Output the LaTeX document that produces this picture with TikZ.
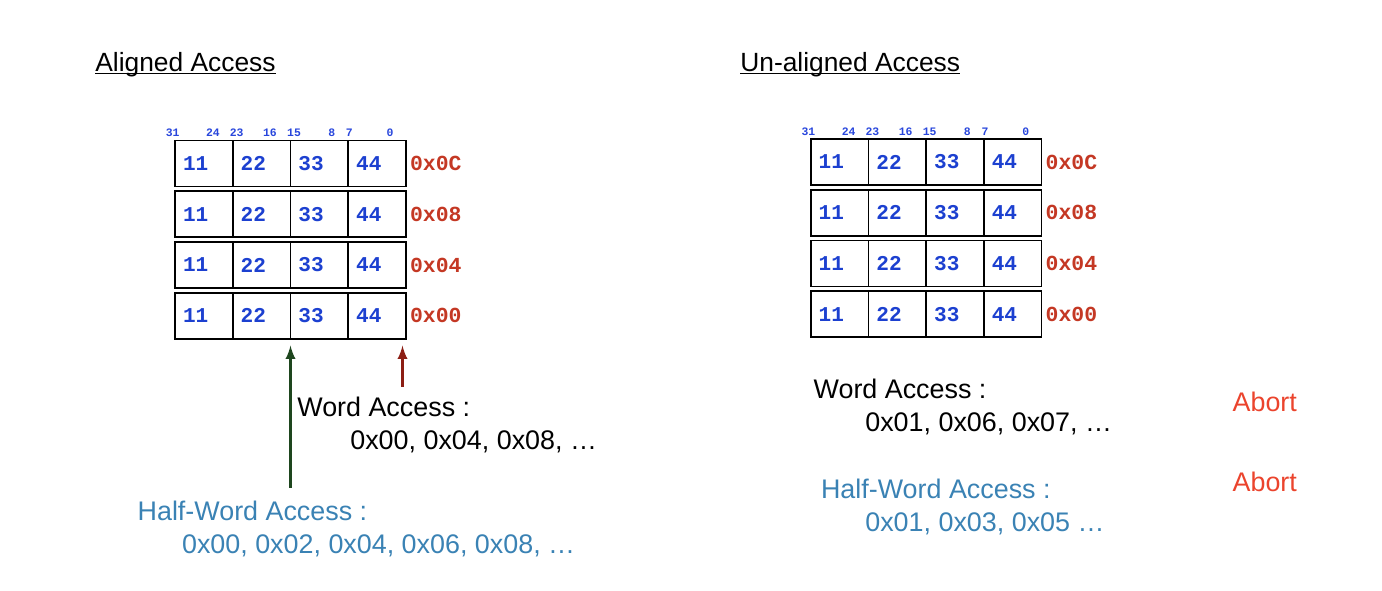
\documentclass[tikz,border=0pt]{standalone}
\usepackage{fontspec}
\setmainfont{Liberation Sans}
\setmonofont{Liberation Mono}
\usepackage{xcolor}
\usetikzlibrary{arrows,positioning}

\definecolor{digitblue}{RGB}{28,64,208}
\definecolor{bitblue}{RGB}{40,70,220}
\definecolor{addrred}{RGB}{196,56,36}
\definecolor{halfblue}{RGB}{58,130,180}
\definecolor{abortred}{RGB}{235,68,45}
\definecolor{arrgreen}{RGB}{30,70,30}
\definecolor{arrred}{RGB}{140,30,20}

\tikzset{
  cell/.style={rectangle,draw=black,line width=1pt,minimum width=1.154cm,minimum height=0.92cm,
    inner xsep=0.16cm,text width=0.834cm,align=left,text=digitblue,
    font=\ttfamily\bfseries\fontsize{12}{12}\selectfont},
  addr/.style={inner sep=0,anchor=west,text=addrred,font=\ttfamily\bfseries\fontsize{12.2}{12.2}\selectfont},
  bit/.style={inner sep=0,text=bitblue,font=\ttfamily\bfseries\fontsize{6.5}{6.5}\selectfont},
  title/.style={inner sep=0,anchor=base west,font=\fontsize{15}{18}\selectfont},
  lbl/.style={inner sep=0,anchor=base west,font=\fontsize{15.3}{18}\selectfont},
  uline/.style={line width=1pt},
  acc/.style={-latex,line width=1.6pt}
}

\begin{document}
\begin{tikzpicture}
\useasboundingbox (0,0) rectangle (27.64,11.8);

% titles
\node[title] (tal) at (1.9,10.37) {Aligned Access};
\draw[uline] ([yshift=-0.04cm]tal.base west) -- ([yshift=-0.04cm]tal.base east);
\node[title] (tun) at (14.8,10.37) {Un-aligned Access};
\draw[uline] ([yshift=-0.04cm]tun.base west) -- ([yshift=-0.04cm]tun.base east);

% aligned memory
\foreach \dx/\b in {-0.046/31,0.76/24,1.234/23,1.9/16,2.38/15,3.134/8,3.486/7,4.3/0}
  \node[bit] (lb\b) at (3.5+\dx,9.14) {\b};
\foreach \r/\y/\ad in {1/8.53/0x0C,2/7.515/0x08,3/6.50/0x04,4/5.485/0x00}{
  \foreach \c/\v in {1/11,2/22,3/33,4/44}
    \node[cell] (l\r\c) at ({3.5+0.577+(\c-1)*1.154},\y) {\v};
  \node[addr,right=0.06cm of l\r4] (la\r) {\ad};
}

% un-aligned memory
\foreach \dx/\b in {-0.046/31,0.76/24,1.234/23,1.9/16,2.38/15,3.134/8,3.486/7,4.3/0}
  \node[bit] (rb\b) at (16.214+\dx,9.17) {\b};
\foreach \r/\y/\ad in {1/8.56/0x0C,2/7.545/0x08,3/6.53/0x04,4/5.515/0x00}{
  \foreach \c/\v in {1/11,2/22,3/33,4/44}
    \node[cell] (r\r\c) at ({16.214+0.577+(\c-1)*1.154},\y) {\v};
  \node[addr,right=0.06cm of r\r4] (ra\r) {\ad};
}

% aligned accesses
\node[lbl] (wl) at (5.94,3.466) {Word Access :};
\node[lbl] (wlv) at (7.0,2.8) {0x00, 0x04, 0x08, \dots};
\node[lbl,text=halfblue] (hl) at (2.746,1.4) {Half-Word Access :};
\node[lbl,text=halfblue] (hlv) at (3.634,0.733) {0x00, 0x02, 0x04, 0x06, 0x08, \dots};
\coordinate (wtail) at (8.05,4.06);
\coordinate (htail) at (5.81,2.04);
\draw[acc,arrred] (wtail) -- ([yshift=-0.12cm]wtail |- l44.south);
\draw[acc,arrgreen] (htail) -- ([yshift=-0.12cm]htail |- l43.south);

% un-aligned accesses
\node[lbl] (wr) at (16.266,3.834) {Word Access :};
\node[lbl] (wrv) at (17.3,3.166) {0x01, 0x06, 0x07, \dots};
\node[lbl,text=halfblue] (hr) at (16.414,1.834) {Half-Word Access :};
\node[lbl,text=halfblue] (hrv) at (17.3,1.18) {0x01, 0x03, 0x05 \dots};
\node[lbl,text=abortred] (ab1) at (24.646,3.566) {Abort};
\node[lbl,text=abortred] (ab2) at (24.646,1.966) {Abort};

\end{tikzpicture}
\end{document}
